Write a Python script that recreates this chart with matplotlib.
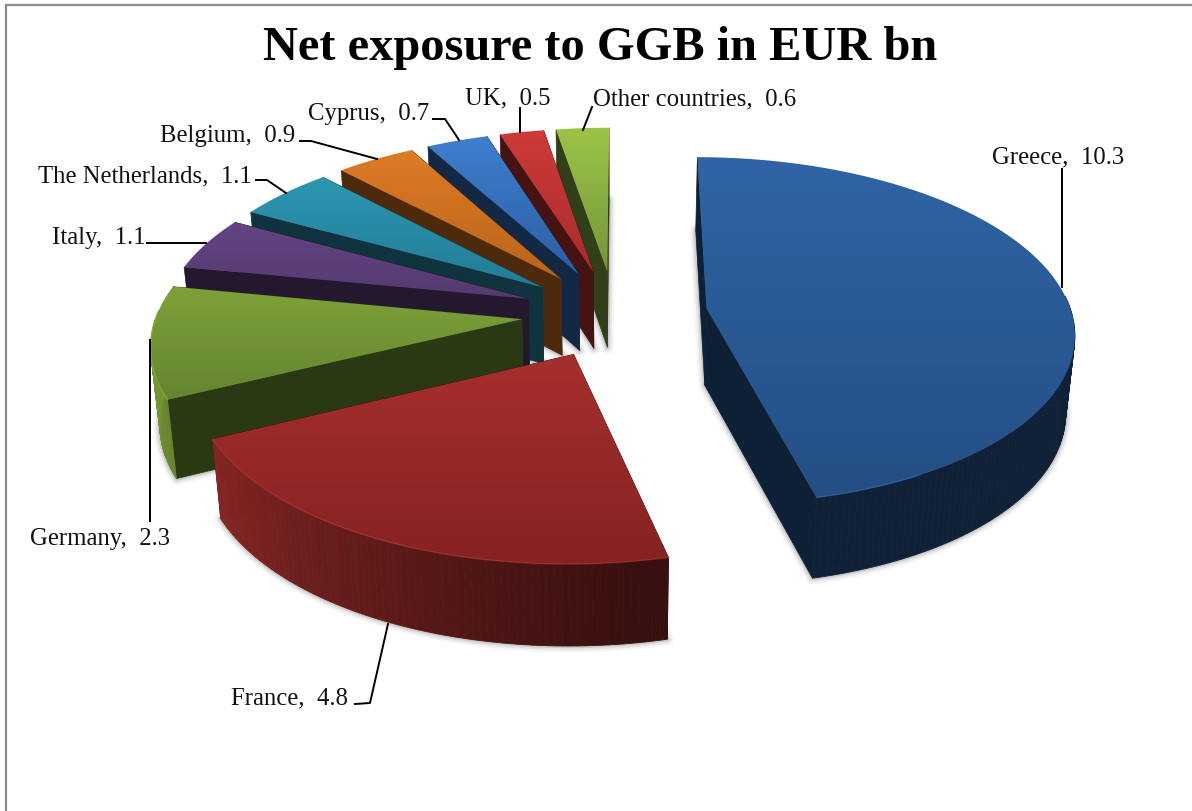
import numpy as np
import matplotlib
matplotlib.use('Agg')
import matplotlib.pyplot as plt
from matplotlib.colors import LinearSegmentedColormap, to_rgb
from matplotlib.patches import Polygon

countries = ['Greece', 'France', 'Germany', 'Italy', 'The Netherlands', 'Belgium', 'Cyprus', 'UK', 'Other countries']
values = [10.3, 4.8, 2.3, 1.1, 1.1, 0.9, 0.7, 0.5, 0.6]
light = ['#3064a6', '#a62f2d', '#7ea239', '#644484', '#2c97b2', '#de7b24', '#3e7fce', '#ce3b38', '#9cc547']
dark = ['#234f84', '#862222', '#648530', '#553a70', '#237c96', '#b9641c', '#2c5fa4', '#a82c2c', '#73963a']

# label anchor (left edge, centre) and leader line for each slice
label_pos = [(992, 157), (231, 698), (30, 539), (52, 238), (38, 176), (160, 136), (308, 114), (465, 98), (593, 99)]
leaders = [
    [(1062, 288), (1062, 170)],
    [(388, 625), (370, 704), (355, 705)],
    [(150, 341), (150, 522)],
    [(147, 244), (206, 244)],
    [(256, 181), (267, 181), (286, 194)],
    [(300, 142), (311, 142), (377, 160)],
    [(433, 120), (445, 120), (459, 141)],
    [(520, 109), (520, 133)],
    [(592, 108), (583, 131)],
]

# projection of the tilted disc, in pixels
cx, cy = 614.5, 314.5
ax_scale, ay_scale = 365, 171.7
persp = 0.127
explode = 0.255
wall = 77
first_angle = 0.2

def project(X, Y):
    d = 1 + persp * Y
    return cx + ax_scale * X / d, cy - ay_scale * Y / d

def drop(x, y, Y):
    # same point on the underside of the disc
    h = wall / (1 + 0.05 * Y)
    return cx + (x - cx) * 0.98, y + h

def shade(c, f):
    return tuple(v * f for v in to_rgb(c))

fig = plt.figure(figsize=(11.92, 8.12), dpi=100)
ax = fig.add_axes([0, 0, 1, 1])
ax.set_axis_off()
serif = ['Liberation Serif', 'DejaVu Serif']

angles = first_angle + np.cumsum([0] + values) / sum(values) * 360
z = 10
for i in range(len(values) - 1, -1, -1):
    t0, t1 = angles[i], angles[i + 1]
    mid = np.radians((t0 + t1) / 2)
    ox, oy = explode * np.sin(mid), explode * np.cos(mid)
    t = np.linspace(t0, t1, max(int(t1 - t0), 6))
    tr = np.radians(t)
    X = ox + np.sin(tr)
    Y = oy + np.cos(tr)
    rx, ry = project(X, Y)
    px, py = project(ox, oy)
    bx, by = drop(rx, ry, Y)
    qx, qy = drop(px, py, oy)

    # soft shadow under the slice
    under = np.column_stack([np.r_[qx, bx], np.r_[qy, by]])
    for lw, a in [(9, 0.06), (6, 0.10), (3, 0.18)]:
        ax.add_patch(Polygon(under, closed=True, fc='none', ec='#555555', lw=lw, alpha=a, zorder=z, joinstyle='round'))
    z += 1

    # cut faces
    cut = shade(dark[i], 0.42 if i else 0.4)
    for k in (0, -1):
        ax.add_patch(Polygon([(px, py), (rx[k], ry[k]), (bx[k], by[k]), (qx, qy)], closed=True, fc=cut, ec=cut, lw=0.5, zorder=z))
    z += 1

    # outer wall on the side that faces the viewer, lighter where it turns left
    for k in range(len(t) - 1):
        if t[k] < 85 or t[k] > 272:
            continue
        f = np.clip(0.33 + (t[k] - 170) * 0.0065, 0.33, 0.92)
        col = shade(light[i], f)
        ax.add_patch(Polygon([(rx[k], ry[k]), (rx[k + 1], ry[k + 1]), (bx[k + 1], by[k + 1]), (bx[k], by[k])],
                             closed=True, fc=col, ec=col, lw=0.6, zorder=z))
    z += 1

    # top face with a vertical gradient
    top = Polygon(np.column_stack([np.r_[px, rx], np.r_[py, ry]]), closed=True, fc='none', ec='none', zorder=z)
    ax.add_patch(top)
    cmap = LinearSegmentedColormap.from_list('top', [light[i], dark[i]])
    y0, y1 = min(py, ry.min()), max(py, ry.max())
    x0, x1 = min(px, rx.min()), max(px, rx.max())
    img = ax.imshow(np.linspace(0, 1, 128).reshape(-1, 1), cmap=cmap, extent=(x0, x1, y1, y0),
                    aspect='auto', zorder=z, interpolation='bilinear')
    img.set_clip_path(top)
    front = (t > 150) & (t < 272)
    if front.any() and i < 3:
        ax.plot(rx[front], ry[front], color=shade(light[i], 1.12), lw=1.0, alpha=0.6, zorder=z + 1)
    z += 2

ax.set_xlim(0, 1192)
ax.set_ylim(812, 0)

# chart area border
ax.plot([5.5, 5.5, 1192], [812, 5.5, 5.5], color='#8c8c8c', lw=1.6, zorder=1, solid_joinstyle='miter')

for i in range(len(values)):
    xs, ys = zip(*leaders[i])
    ax.plot(xs, ys, color='black', lw=1.4, zorder=200)
    ax.text(label_pos[i][0], label_pos[i][1], f'{countries[i]},  {values[i]}', fontsize=17.8, family=serif,
            ha='left', va='center', color='#111111', zorder=201)

ax.text(600, 48, 'Net exposure to GGB in EUR bn', fontsize=34.8, family=serif, weight='bold',
        ha='center', va='center', color='black', zorder=201)

fig.savefig('out.png', dpi=100)
